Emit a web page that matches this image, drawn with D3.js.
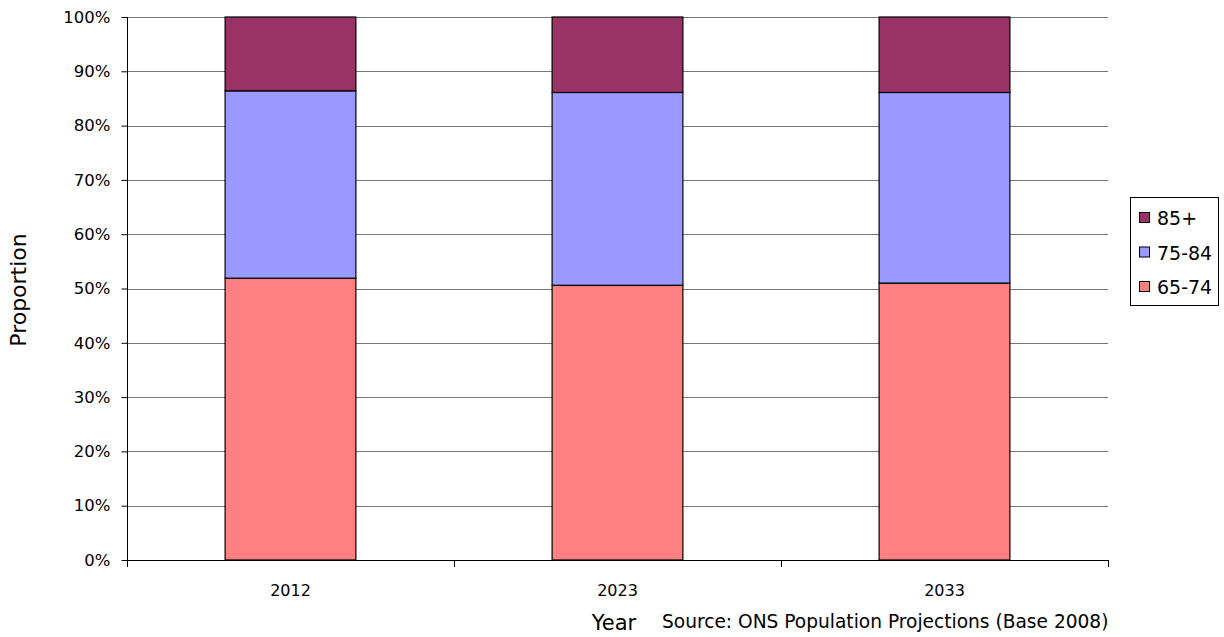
<!DOCTYPE html>
<html>
<head>
<meta charset="utf-8">
<script src="https://cdn.jsdelivr.net/npm/d3@7"></script>
<style>
  html, body { margin: 0; padding: 0; background: #fff; }
  svg { display: block; font-family: "DejaVu Sans", Verdana, sans-serif; }
</style>
</head>
<body>
<svg id="chart" width="1224" height="637"></svg>
<script>
// Age-band shares of the 65+ population, by projection year
const years = ["2012", "2023", "2033"];
const ageBands = ["65-74", "75-84", "85+"];
const share65to74 = [0.519, 0.506, 0.510];
const share75to84 = [0.345, 0.355, 0.351];
const share85plus = [0.136, 0.139, 0.139];
const yTickValues = [0, 0.1, 0.2, 0.3, 0.4, 0.5, 0.6, 0.7, 0.8, 0.9, 1.0];
const bandColours = ["#FF8080", "#9999FF", "#993366"];

const rows = years.map((y, i) => ({
  year: y,
  "65-74": share65to74[i],
  "75-84": share75to84[i],
  "85+": share85plus[i]
}));

const svg = d3.select("#chart");
const plotLeft = 127, plotRight = 1108, plotTop = 17, plotBottom = 560;

const x = d3.scaleBand().domain(years).range([plotLeft, plotRight])
  .paddingInner(0.6).paddingOuter(0.3);
const y = d3.scaleLinear().domain([0, 1]).range([plotBottom, plotTop]);
const colour = d3.scaleOrdinal().domain(ageBands).range(bandColours);

// horizontal gridlines
svg.append("g").selectAll("line")
  .data(yTickValues.filter(d => d > 0))
  .join("line")
  .attr("x1", plotLeft).attr("x2", plotRight)
  .attr("y1", d => Math.round(y(d)) + 0.5).attr("y2", d => Math.round(y(d)) + 0.5)
  .attr("stroke", "#777").attr("stroke-width", 1.2);

// stacked bars
const stacked = d3.stack().keys(ageBands)(rows);
svg.append("g").selectAll("g")
  .data(stacked)
  .join("g")
  .attr("fill", d => colour(d.key))
  .selectAll("rect")
  .data(d => d)
  .join("rect")
  .attr("x", d => x(d.data.year))
  .attr("width", x.bandwidth())
  .attr("y", d => y(d[1]))
  .attr("height", d => y(d[0]) - y(d[1]))
  .attr("stroke", "#000").attr("stroke-width", 1.2);

// y axis
const yAxis = d3.axisLeft(y).tickValues(yTickValues)
  .tickFormat(d3.format(".0%")).tickSize(6).tickPadding(11);
const gy = svg.append("g").attr("transform", `translate(${plotLeft + 0.5},0)`).call(yAxis);
gy.select(".domain").remove();
gy.append("line").attr("x1", 0).attr("x2", 0).attr("y1", plotTop).attr("y2", plotBottom + 7)
  .attr("stroke", "#000");
gy.selectAll(".tick line").attr("stroke", "#000");
gy.selectAll(".tick text").attr("font-size", 16.5).attr("fill", "#000")
  .attr("font-family", "DejaVu Sans, Verdana, sans-serif");

// x axis: baseline with category-boundary ticks
const gx = svg.append("g");
gx.append("line").attr("x1", plotLeft).attr("x2", plotRight)
  .attr("y1", plotBottom + 0.5).attr("y2", plotBottom + 0.5).attr("stroke", "#000");
const step = x.step();
const boundaries = d3.range(years.length + 1).map(i => x(years[0]) - x.paddingOuter() * step + i * step);
gx.selectAll(".bt").data(boundaries).join("line")
  .attr("x1", d => Math.round(d) + 0.5).attr("x2", d => Math.round(d) + 0.5)
  .attr("y1", plotBottom).attr("y2", plotBottom + 7).attr("stroke", "#000");
gx.selectAll("text").data(years).join("text")
  .attr("x", d => x(d) + x.bandwidth() / 2)
  .attr("y", 596)
  .attr("text-anchor", "middle")
  .attr("font-size", 16)
  .text(d => d);

// axis titles and source note
svg.append("text").attr("transform", "translate(26,290) rotate(-90)")
  .attr("text-anchor", "middle").attr("font-size", 22).text("Proportion");
svg.append("text").attr("x", 614).attr("y", 630)
  .attr("text-anchor", "middle").attr("font-size", 21).text("Year");
svg.append("text").attr("x", 662).attr("y", 628)
  .attr("font-size", 18.6).text("Source: ONS Population Projections (Base 2008)");

// legend
const legend = svg.append("g");
legend.append("rect").attr("x", 1130.5).attr("y", 197.5).attr("width", 88).attr("height", 108)
  .attr("fill", "#fff").attr("stroke", "#000");
const legendOrder = ["85+", "75-84", "65-74"];
const item = legend.selectAll(".item").data(legendOrder).join("g")
  .attr("transform", (d, i) => `translate(1139,${218 + i * 34.5})`);
item.append("rect").attr("x", 0.5).attr("y", -5.5).attr("width", 10).attr("height", 10)
  .attr("fill", d => colour(d)).attr("stroke", "#000");
item.append("text").attr("x", 18).attr("y", 7).attr("font-size", 19).text(d => d);
</script>
</body>
</html>
